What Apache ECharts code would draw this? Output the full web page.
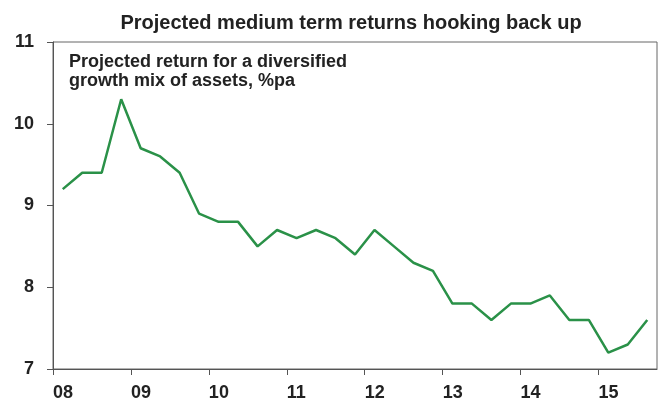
<!DOCTYPE html>
<html>
<head>
<meta charset="utf-8">
<script src="https://cdn.jsdelivr.net/npm/echarts@6/dist/echarts.min.js"></script>
<style>
  html, body { margin: 0; padding: 0; background: #fff; }
  #chart { width: 665px; height: 402px; }
</style>
</head>
<body>
<div id="chart"></div>
<script>
// Projected return, %pa, quarterly from Q1 2008
const startYear = 2008;
const returns = [9.2, 9.4, 9.4, 10.3, 9.7, 9.6, 9.4, 8.9, 8.8, 8.8, 8.5, 8.7, 8.6, 8.7, 8.6, 8.4,
                 8.7, 8.5, 8.3, 8.2, 7.8, 7.8, 7.6, 7.8, 7.8, 7.9, 7.6, 7.6, 7.2, 7.3, 7.6];
const yearTicks = [2008, 2009, 2010, 2011, 2012, 2013, 2014, 2015];
const yTicks = [7, 8, 9, 10, 11];

// place each quarter at its mid-point
const points = returns.map((v, i) => [startYear + (i + 0.5) / 4, v]);

const chart = echarts.init(document.getElementById('chart'));
const font = '"Liberation Sans", Arial, sans-serif';

chart.setOption({
    animation: false,
    backgroundColor: '#fff',
    title: [
        {
            text: 'Projected medium term returns hooking back up',
            left: 346,
            textAlign: 'center',
            top: 8,
            textStyle: { fontSize: 20, fontWeight: 'bold', color: '#222', fontFamily: font }
        },
        {
            text: 'Projected return for a diversified\ngrowth mix of assets, %pa',
            left: 64,
            top: 48,
            textStyle: { fontSize: 18, fontWeight: 'bold', color: '#222', fontFamily: font, lineHeight: 19 }
        }
    ],
    grid: {
        left: 53, right: 8, top: 42, bottom: 32,
        show: true, borderColor: '#666', borderWidth: 1
    },
    xAxis: {
        type: 'value',
        min: startYear,
        max: startYear + returns.length / 4,
        interval: 1,
        splitLine: { show: false },
        axisLine: { lineStyle: { color: '#555', width: 1 } },
        axisTick: { show: true, length: 6, lineStyle: { color: '#555' }, customValues: yearTicks },
        axisLabel: {
            customValues: yearTicks,
            margin: 15,
            align: 'left',
            fontSize: 18, fontWeight: 'bold', color: '#222', fontFamily: font,
            formatter: v => String(v % 100).padStart(2, '0')
        }
    },
    yAxis: {
        type: 'value',
        min: 7, max: 11, interval: 1,
        splitLine: { show: false },
        axisLine: { show: true, lineStyle: { color: '#555', width: 1 } },
        axisTick: { show: true, length: 6, lineStyle: { color: '#555' } },
        axisLabel: {
            margin: 19,
            fontSize: 18, fontWeight: 'bold', color: '#222', fontFamily: font,
            customValues: yTicks
        }
    },
    series: [{
        type: 'line',
        data: points,
        symbol: 'none',
        lineStyle: { color: '#2a9148', width: 2.5 },
        itemStyle: { color: '#2a9148' }
    }]
});
</script>
</body>
</html>
